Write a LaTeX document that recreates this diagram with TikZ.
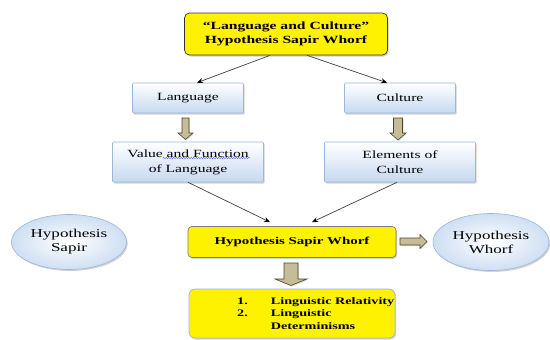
\documentclass[tikz,border=0pt]{standalone}
\usepackage{fontspec}
\setmainfont{Liberation Serif}
\usetikzlibrary{shadows,shapes.geometric,arrows.meta,decorations.pathmorphing}
\definecolor{bluebord}{HTML}{9BB7D9}
\definecolor{bluefill}{HTML}{C6D9F1}
\definecolor{khaki}{HTML}{C4BD97}
\definecolor{khakidark}{HTML}{4A452A}
\definecolor{linegray}{HTML}{404040}
\newcommand\stx[1]{\scalebox{1.42}[1]{#1}}
\tikzset{
  x=1pt,y=1pt,
  shad/.style={drop shadow={opacity=0.35,shadow xshift=1.2pt,shadow yshift=-1.5pt}},
  bluebox/.style={shad,draw=bluebord,line width=0.6pt,rounded corners=1pt,top color=white,bottom color=bluefill,
    inner sep=0pt,align=center,font=\fontsize{11}{15}\selectfont},
  yellowbox/.style={shad,draw=linegray!70,line width=0.7pt,fill=yellow,rounded corners=5pt,inner sep=0pt,align=center,
    font=\fontsize{11}{14}\selectfont\bfseries},
  oval/.style={shad,ellipse,draw=bluebord,line width=0.6pt,inner color=white,outer color=bluefill!85,inner sep=0pt,
    align=center,font=\fontsize{12}{14}\selectfont},
  conn/.style={draw=linegray,line width=0.7pt,-{Stealth[length=6pt,width=5pt,color=black]}},
  blockarrow/.style={drop shadow={opacity=0.25,shadow xshift=1pt,shadow yshift=-1pt},draw=khakidark,fill=khaki,
    line width=0.6pt,line join=miter}
}
\begin{document}
\begin{tikzpicture}
\useasboundingbox (0,0) rectangle (550,-340);
% boxes
\node[yellowbox,draw=black!80,minimum width=203,minimum height=42] (top) at (286,-34) {\stx{“Language and Culture”}\\\stx{Hypothesis Sapir Whorf}};
\node[bluebox,minimum width=111,minimum height=30] (lang) at (188,-98) {\stx{Language}};
\node[bluebox,minimum width=111,minimum height=30] (cult) at (400,-98) {\stx{Culture}};
\node[bluebox,minimum width=151,minimum height=40] (val) at (188,-162) {\stx{Value and Function}\\\stx{of Language}};
\node[bluebox,minimum width=151,minimum height=40] (elem) at (400,-162) {\stx{Elements of}\\\stx{Culture}};
\node[yellowbox,rounded corners=4pt,minimum width=208,minimum height=31,font=\fontsize{10.5}{13}\selectfont\bfseries] (mid) at (292,-242) {\stx{Hypothesis Sapir Whorf}};
\node[oval,minimum width=115,minimum height=55] (sapir) at (69,-242) {\stx{Hypothesis}\\\stx{Sapir}};
\node[oval,minimum width=116,minimum height=57] (whorf) at (491,-242) {\stx{Hypothesis}\\\stx{Whorf}};
\node[yellowbox,draw=bluebord,rounded corners=6pt,minimum width=206,minimum height=49] (bot) at (292,-313.5) {};
\node[font=\fontsize{10}{12.5}\selectfont\bfseries,inner sep=0pt,anchor=west] (list) at (237,-314)
  {\begin{tabular}{@{}l@{\hspace{23pt}}l@{}}\stx{1.} & \stx{Linguistic Relativity}\\ \stx{2.} & \stx{Linguistic}\\ & \stx{Determinisms}\end{tabular}};
% spell-check squiggle
\coordinate (sq1) at (163,-158);
\coordinate (sq2) at (250,-158);
\draw[blue!70,line width=0.4pt,decorate,decoration={snake,amplitude=0.6pt,segment length=2.5pt}] (sq1) -- (sq2);
% connectors
\draw[conn] ([xshift=-16]top.south) -- ([xshift=9]lang.north);
\draw[conn] ([xshift=21]top.south) -- ([xshift=-13]cult.north);
\draw[conn] (val.south) -- ([xshift=-22,yshift=4]mid.north);
\draw[conn] ([xshift=-3]elem.south) -- ([xshift=20,yshift=4]mid.north);
% block arrows
\draw[blockarrow] (182,-118) -- (189,-118) -- (189,-133) -- (193,-133) -- (185.5,-139.5) -- (178,-133) -- (182,-133) -- cycle;
\draw[blockarrow] (393.5,-118) -- (402.5,-118) -- (402.5,-133) -- (406,-133) -- (398,-140) -- (390,-133) -- (393.5,-133) -- cycle;
\draw[blockarrow] (400,-238) -- (420,-238) -- (420,-234.5) -- (427,-241.5) -- (420,-248.5) -- (420,-245) -- (400,-245) -- cycle;
\draw[blockarrow] (284,-263) -- (298,-263) -- (298,-279) -- (307,-279) -- (291,-285.5) -- (275,-279) -- (284,-279) -- cycle;
\end{tikzpicture}
\end{document}
